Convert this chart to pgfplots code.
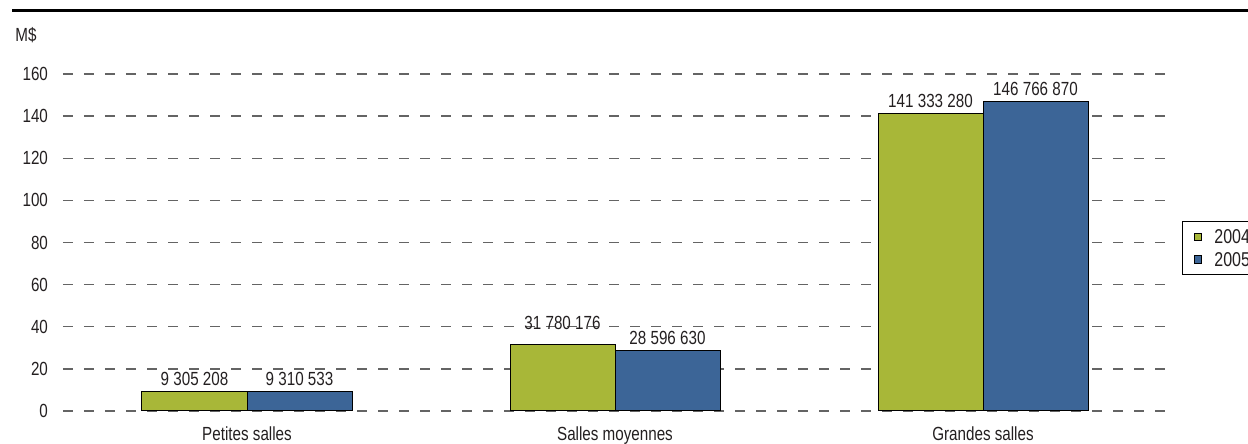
\documentclass[border=0pt]{standalone}
\usepackage{fontspec}
\setmainfont{Liberation Sans}[FakeStretch=0.8]
\usepackage{pgfplots}
\pgfplotsset{compat=1.18}
\definecolor{cgreen}{RGB}{168,183,56}
\definecolor{cblue}{RGB}{60,101,151}
\definecolor{ctext}{RGB}{35,31,32}
\definecolor{cgrid}{RGB}{100,100,100}
\pgfplotsset{legimg/.style={legend image code/.code={\draw[##1,draw=black,line width=0.4pt] (0pt,-1.875pt) rectangle (3.75pt,1.875pt);}}}
\begin{document}
\begin{tikzpicture}[x=1pt,y=1pt]
\useasboundingbox (0,0) rectangle (624,222);
\draw[line width=1.5pt] (6,216.5) -- (624,216.5);
\node[anchor=west, font=\fontsize{9.5}{11}\selectfont, text=ctext, inner sep=0pt] at (7.5,204.5) {M\$};
\begin{axis}[
  at={(31.5pt,16.5pt)}, anchor=south west,
  scale only axis, width=552pt, height=168.5pt,
  xmin=-0.5, xmax=2.5, ymin=0, ymax=160,
  ytick={0,20,...,160},
  xtick={0,1,2},
  xticklabels={Petites salles, Salles moyennes, Grandes salles},
  /pgf/number format/assume math mode=true,
  tick label style={font=\fontsize{9.5}{11}\selectfont, text=ctext},
  yticklabel style={xshift=-4pt},
  xticklabel style={yshift=-4.5pt},
  major tick length=0pt,
  axis x line*=bottom, axis y line*=left,
  axis line style={draw=none},
  ymajorgrids,
  grid style={cgrid, line width=0.7pt, dash pattern=on 5pt off 5.5pt},
  ybar=0pt, bar width=52.5pt,
  clip=false,
  nodes near coords,
  point meta=explicit symbolic,
  nodes near coords style={font=\fontsize{9.5}{11}\selectfont, text=ctext, inner sep=0pt, anchor=south, yshift=2.7pt},
  legend style={at={(1.0136,0.564)}, anchor=north west, draw=black, line width=0.5pt,
    font=\fontsize{10}{11}\selectfont, text=ctext, inner xsep=5.5pt, inner ysep=2pt,
    row sep=0pt, column sep=5.3pt,
    nodes={inner xsep=1pt, inner ysep=1.125pt, text height=8pt, text depth=1pt, anchor=west},
    cells={anchor=west}},
]
\addplot[fill=cgreen, draw=black, line width=0.5pt, legimg] coordinates {
  (0,9.305208) [9 305 208]
  (1,31.780176) [\raisebox{4.5pt}{31 780 176}]
  (2,141.333280) [141 333 280]
};
\addplot[fill=cblue, draw=black, line width=0.5pt, legimg] coordinates {
  (0,9.310533) [9 310 533]
  (1,28.596630) [28 596 630]
  (2,146.766870) [146 766 870]
};
\legend{2004,2005}
\end{axis}
\end{tikzpicture}
\end{document}
